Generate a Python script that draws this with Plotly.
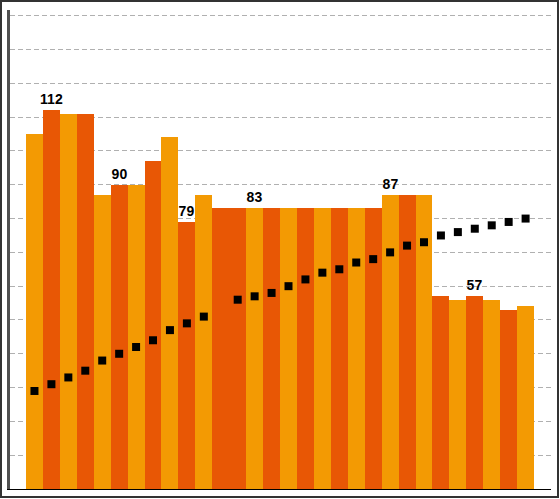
import plotly.graph_objects as go

categories = [f"C{i}" for i in range(1, 31)]
bar_values = [105, 112, 111, 111, 87, 90, 90, 97, 104, 79,
              87, 83, 83, 83, 83, 83, 83, 83, 83, 83,
              83, 87, 87, 87, 57, 56, 57, 56, 53, 54]
bar_labels = ["", "112", "", "", "", "90", "", "", "", "79",
              "", "", "", "83", "", "", "", "", "", "",
              "", "87", "", "", "", "", "57", "", "", ""]
bar_color_keys = ["a", "b", "a", "b", "a", "b", "a", "b", "a", "b",
                  "a", "b", "b", "a", "b", "a", "b", "a", "b", "a",
                  "b", "a", "b", "a", "b", "a", "b", "a", "b", "a"]
marker_values = [29, 31, 33, 35, 38, 40, 42, 44, 47, 49,
                 51, None, 56, 57, 58, 60, 62, 64, 65, 67,
                 68, 70, 72, 73, 75, 76, 77, 78, 79, 80]

palette = {"a": "#F39A03", "b": "#E85705"}

fig = go.Figure()
fig.add_trace(go.Bar(
    x=categories, y=bar_values,
    marker=dict(color=[palette[k] for k in bar_color_keys], line=dict(width=0)),
    width=1.0,
    text=bar_labels, textposition="outside", constraintext="none",
    textfont=dict(family="Liberation Sans", size=14, color="black", weight="bold"),
    cliponaxis=False, showlegend=False,
))
fig.add_trace(go.Scatter(
    x=categories, y=marker_values, mode="markers",
    marker=dict(symbol="square", size=8, color="black"),
    showlegend=False,
))

W, H = 560, 499
ml, mr, mt, mb = 10, 9, 10, 10
pw, ph = W - ml - mr, H - mt - mb

def px_x(p):
    return (p - ml) / pw

def px_y(p):
    return (H - mb - p) / ph

fig.update_layout(
    width=W, height=H,
    margin=dict(l=ml, r=mr, t=mt, b=mb),
    paper_bgcolor="white", plot_bgcolor="white",
    bargap=0,
    xaxis=dict(range=[-1.445, 30.5], showticklabels=False, ticks="",
               showgrid=False, showline=True, linecolor="black", linewidth=1,
               zeroline=False, type="category"),
    yaxis=dict(range=[0, 141.7], dtick=10, showticklabels=False, ticks="",
               showgrid=True, gridcolor="#B0B0B0", griddash="5px,3px", gridwidth=1,
               showline=True, linecolor="#505050", linewidth=3, zeroline=False),
    shapes=[dict(type="rect", xref="paper", yref="paper",
                 x0=px_x(1), x1=px_x(558), y0=px_y(497), y1=px_y(1),
                 line=dict(color="#333333", width=2), layer="above")],
)

fig.write_html("out.html")
